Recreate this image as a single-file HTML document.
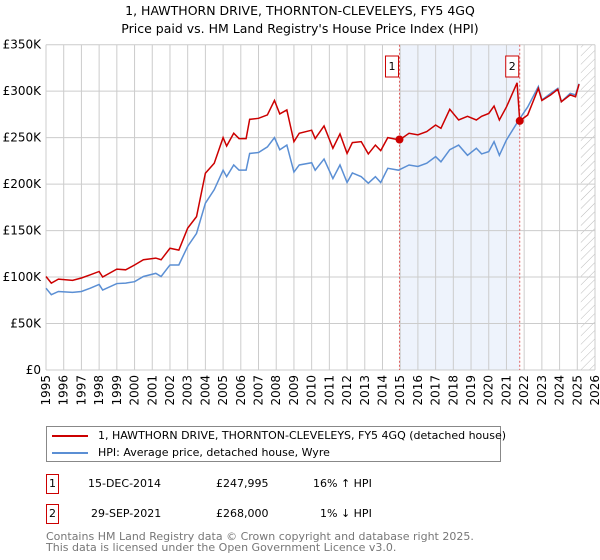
<!DOCTYPE html>
<html><head><meta charset="utf-8"><style>
body{margin:0;background:#fff;font-family:"DejaVu Sans","Liberation Sans",sans-serif;}
#wrap{position:relative;width:600px;height:560px;overflow:hidden;}
.t{position:absolute;font-size:12.5px;color:#000;}
svg text{font-family:"DejaVu Sans","Liberation Sans",sans-serif;}
</style></head><body><div id="wrap">
<div class="t" style="left:0;width:600px;text-align:center;top:2px;font-size:12.5px;line-height:18px">1, HAWTHORN DRIVE, THORNTON-CLEVELEYS, FY5 4GQ<br>Price paid vs. HM Land Registry's House Price Index (HPI)</div>
<svg id="chart" width="600" height="420" style="position:absolute;left:0;top:0"></svg>
<div style="position:absolute;left:46px;top:426px;width:455px;height:36px;border:1px solid #888;box-sizing:border-box">
 <div style="position:absolute;left:5px;top:2px;font-size:11px;white-space:nowrap"><span style="display:inline-block;width:36px;height:2px;background:#cc0000;vertical-align:middle;margin-right:10px"></span>1, HAWTHORN DRIVE, THORNTON-CLEVELEYS, FY5 4GQ (detached house)</div>
 <div style="position:absolute;left:5px;top:19px;font-size:11px;white-space:nowrap"><span style="display:inline-block;width:36px;height:2px;background:#5b8fd4;vertical-align:middle;margin-right:10px"></span>HPI: Average price, detached house, Wyre</div>
</div>
<div style="position:absolute;left:0;top:477px;font-size:11px">
 <span style="position:absolute;left:46px;top:-3px;width:13px;height:20px;border:1px solid #cc0000;box-sizing:border-box;text-align:center;line-height:18px">1</span>
 <span style="position:absolute;left:88px;white-space:nowrap">15-DEC-2014</span>
 <span style="position:absolute;left:216px;white-space:nowrap">£247,995</span>
 <span style="position:absolute;left:313px;white-space:nowrap">16% ↑ HPI</span></div>
<div style="position:absolute;left:0;top:507px;font-size:11px">
 <span style="position:absolute;left:46px;top:-3px;width:13px;height:20px;border:1px solid #cc0000;box-sizing:border-box;text-align:center;line-height:18px">2</span>
 <span style="position:absolute;left:91px;white-space:nowrap">29-SEP-2021</span>
 <span style="position:absolute;left:216px;white-space:nowrap">£268,000</span>
 <span style="position:absolute;left:320px;white-space:nowrap">1% ↓ HPI</span></div>
<div style="position:absolute;left:46px;top:531px;font-size:11px;color:#777;line-height:11px;white-space:nowrap">Contains HM Land Registry data © Crown copyright and database right 2025.<br>This data is licensed under the Open Government Licence v3.0.</div>
</div>
<script>
const yTicks=[0,50,100,150,200,250,300,350];
const xYears=[1995,1996,1997,1998,1999,2000,2001,2002,2003,2004,2005,2006,2007,2008,2009,2010,2011,2012,2013,2014,2015,2016,2017,2018,2019,2020,2021,2022,2023,2024,2025,2026];
const hpiT=[1995,1995.3,1995.7,1996.5,1997,1997.5,1998,1998.2,1999,1999.5,2000,2000.5,2001.2,2001.5,2002,2002.5,2003,2003.5,2004,2004.5,2005,2005.2,2005.6,2005.9,2006.3,2006.5,2007,2007.5,2007.9,2008.2,2008.6,2009,2009.3,2010,2010.2,2010.7,2011.2,2011.6,2012,2012.3,2012.8,2013.2,2013.6,2013.9,2014.3,2014.9,2015.5,2016,2016.5,2017,2017.3,2017.8,2018.3,2018.8,2019.3,2019.6,2020,2020.3,2020.6,2021,2021.7,2022.2,2022.8,2023,2023.5,2023.9,2024.1,2024.6,2024.9,2025.1];
const hpiV=[88,81,84.5,83.5,84.5,88,92,86,93,93.5,95,100.6,104,100.6,113,113,133,147,179.5,194,215,208,220.6,215,215,233,234,240,250,237,242,213,220.6,223,215,227,206,220.6,201.7,212,208,201,208,201.7,217,215,220.6,219,222.5,229.6,224,237,242,231,238.6,232.5,235,245.7,231,247.5,269,283,305,290.5,297.7,303,288.7,297.7,296,308];
const redT=[1995,1995.3,1995.7,1996.5,1997,1997.5,1998,1998.2,1999,1999.5,2000,2000.5,2001.2,2001.5,2002,2002.5,2003,2003.5,2004,2004.5,2005,2005.2,2005.6,2005.9,2006.3,2006.5,2007,2007.5,2007.9,2008.2,2008.6,2009,2009.3,2010,2010.2,2010.7,2011.2,2011.6,2012,2012.3,2012.8,2013.2,2013.6,2013.9,2014.3,2014.96,2015.5,2016,2016.5,2017,2017.3,2017.8,2018.3,2018.8,2019.3,2019.6,2020,2020.3,2020.6,2021,2021.6,2021.75,2022.2,2022.8,2023,2023.5,2023.9,2024.1,2024.6,2024.9,2025.1];
const redV=[100.6,93.5,97.8,96.4,99,102.4,106,100,108.5,107.8,113,118.6,120.4,118.6,131,129,152.6,165,211.7,222.5,250,241,254.7,249,249,269.7,270.8,274.4,290,275.5,279.8,245.7,254.7,258,249,262.6,238.6,254,233,244.7,245.7,232.5,242,236,250,247.5,254.7,253,256.5,263.6,260,280.5,269,273,269,273,276,284,269,283,309,268,274.4,303,290,296,302,288.7,296,294,307.5];
const saleT=[2014.96,2021.75];
const saleV=[247.995,268];
const L=46,R=595,T=44.7,B=370;
const X=t=>L+(t-1995)*(R-L)/31;
const Y=v=>B-v*(B-T)/350;
const NS='http://www.w3.org/2000/svg';
const svg=document.getElementById('chart');
function mk(tag,attrs){const e=document.createElementNS(NS,tag);for(const k in attrs)e.setAttribute(k,attrs[k]);svg.appendChild(e);return e;}
let sh=mk('rect',{x:X(saleT[0]),y:T,width:X(saleT[1])-X(saleT[0]),height:B-T,fill:'#eef3fc'});


const defs=document.createElementNS(NS,'defs');defs.innerHTML='<pattern id="h" width="6" height="6" patternUnits="userSpaceOnUse" patternTransform="rotate(45)"><line x1="0" y1="0" x2="0" y2="6" stroke="#bbb" stroke-width="1"/></pattern>';svg.appendChild(defs);
let ht=mk('rect',{x:X(2025.2),y:T,width:R-X(2025.2),height:B-T,fill:'url(#h)'});


xYears.forEach(yr=>{
 mk('line',{x1:X(yr),x2:X(yr),y1:T,y2:B,stroke:'#ccc','stroke-width':1});
 const t=mk('text',{x:0,y:0,transform:`translate(${X(yr)+4},${B+5}) rotate(-90)`,'text-anchor':'end','font-size':'12'});
 t.textContent=yr;
 
 
});
yTicks.forEach(v=>{
 mk('line',{x1:L,x2:R,y1:Y(v),y2:Y(v),stroke:'#ccc','stroke-width':1});
 const t=mk('text',{x:L-5,y:Y(v)+4,'text-anchor':'end','font-size':'12'});
 t.textContent=v===0?'£0':'£'+v+'K';
 
 
});
saleT.forEach((s,i)=>{
 const l=mk('line',{x1:X(s),x2:X(s),y1:T,y2:B,stroke:'#e06060','stroke-dasharray':'2,2','stroke-width':1});
 
 
 const r=mk('rect',{x:X(s)-14,y:56,width:13,height:21,fill:'#fff',stroke:'#cc0000'});
 
 
 const t=mk('text',{x:X(s)-7.5,y:70,'text-anchor':'middle','font-size':'11'});t.textContent=i+1;
});
const hp=mk('polyline',{points:hpiT.map((t,i)=>X(t)+','+Y(hpiV[i])).join(' '),fill:'none',stroke:'#5b8fd4','stroke-width':1.5});


const rp=mk('polyline',{points:redT.map((t,i)=>X(t)+','+Y(redV[i])).join(' '),fill:'none',stroke:'#cc0000','stroke-width':1.5});


saleT.forEach((s,i)=>{
 const c=mk('circle',{cx:X(s),cy:Y(saleV[i]),r:4,fill:'#cc0000'});
 
 
});
</script></body></html>
